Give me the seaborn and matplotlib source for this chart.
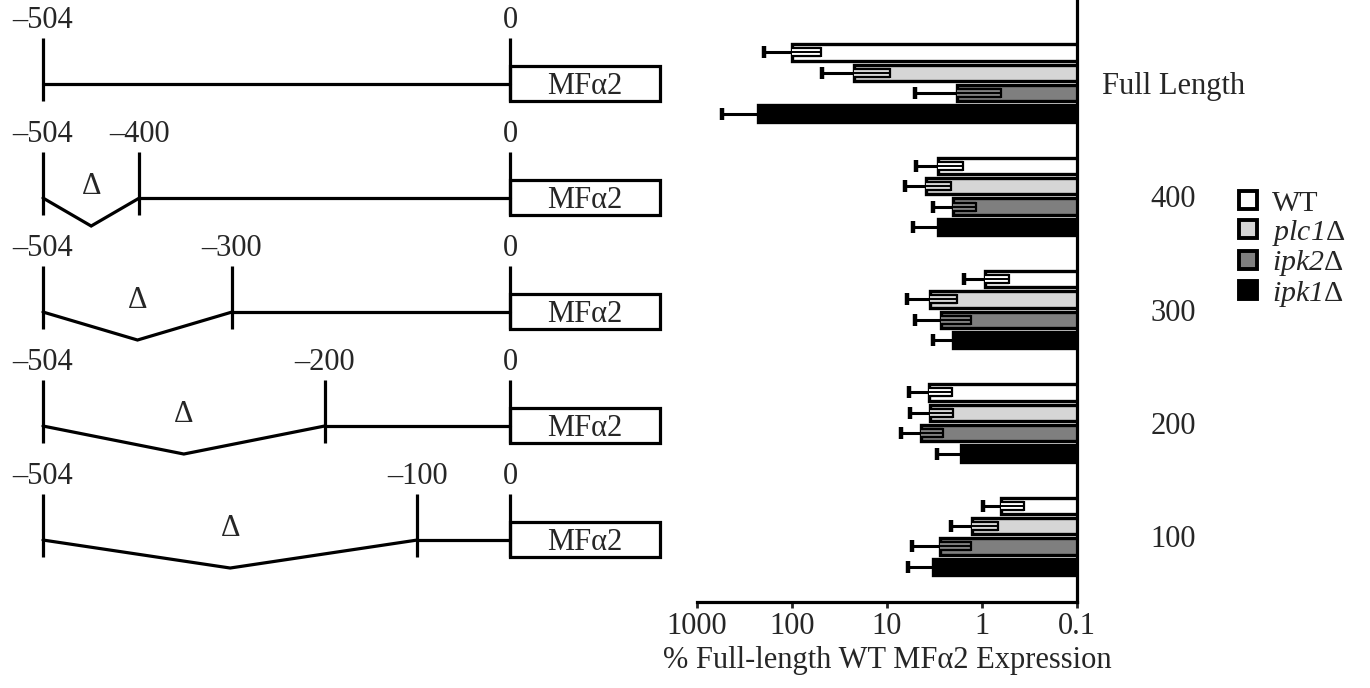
import numpy as np
import pandas as pd
import matplotlib.pyplot as plt
import seaborn as sns
from matplotlib.lines import Line2D
from matplotlib.patches import Rectangle
from matplotlib.ticker import NullLocator

# groups (promoter constructs) and strains
groups = ['Full Length', '400', '300', '200', '100']
strains = ['WT', 'plc1Δ', 'ipk2Δ', 'ipk1Δ']
legend_labels = ['WT', r'$\mathcal{plc1}$Δ', r'$\mathcal{ipk2}$Δ', r'$\mathcal{ipk1}$Δ']
colors = ['#ffffff', '#d6d6d6', '#7f7f7f', '#000000']

# % of full-length WT MFa2 expression (one list per strain, in group order)
wt = [100, 2.9, 0.94, 3.6, 0.63]
plc1 = [22, 3.9, 3.5, 3.55, 1.26]
ipk2 = [1.83, 2.0, 2.7, 4.35, 2.8]
ipk1 = [228, 2.9, 2.0, 1.68, 3.3]

# upper / lower ends of the error bars
wt_hi = [199, 5.0, 1.56, 5.9, 0.98]
wt_lo = [49, 1.6, 0.52, 2.07, 0.36]
plc1_hi = [48, 6.5, 6.2, 5.7, 2.1]
plc1_lo = [9.4, 2.1, 1.83, 2.0, 0.68]
ipk2_hi = [5.1, 3.3, 5.1, 7.05, 5.5]
ipk2_lo = [0.63, 1.15, 1.32, 2.57, 1.29]
ipk1_hi = [550, 5.3, 3.3, 3.0, 6.0]
ipk1_lo = [95, 1.6, 1.25, 0.95, 1.8]

# promoter constructs: 5' end of each construct (full promoter starts at -504)
full_start = -504
starts = [-504, -400, -300, -200, -100]

sns.set_style('white')
plt.rcParams['font.family'] = ['Liberation Serif', 'DejaVu Serif']
plt.rcParams['mathtext.fontset'] = 'custom'
plt.rcParams['mathtext.rm'] = 'Liberation Serif'
plt.rcParams['mathtext.it'] = 'Liberation Serif:italic'
plt.rcParams['mathtext.cal'] = 'Liberation Serif:italic'
FS = 22

fig = plt.figure(figsize=(13.7, 6.88), dpi=100)

# ---- left: promoter deletion diagram ----
dax = fig.add_axes([0, 0, 690 / 1370, 1])
dax.set_xlim(-550.4, 194.3)
dax.set_ylim(5.298, -0.737)
dax.axis('off')
u = 1 / 114  # one pixel in row units
gene_len = 162
lw = 2.3
for i, s in enumerate(starts):
    y = i
    marks = sorted({full_start, s, 0})
    for xt in marks:
        dax.plot([xt, xt], [y - 46 * u, y + 17 * u], color='k', lw=lw,
                 solid_capstyle='butt')
        lab = '0' if xt == 0 else '–%d' % abs(xt)
        dax.text(xt, y - 64 * u, lab, ha='center', va='center', fontsize=FS)
    if s == full_start:
        dax.plot([full_start, 0], [y, y], color='k', lw=lw)
    else:
        mid = (full_start + s) / 2
        dax.plot([full_start, mid, s], [y, y + 28 * u, y], color='k', lw=lw,
                 solid_joinstyle='miter')
        dax.plot([s, 0], [y, y], color='k', lw=lw)
        dax.text(mid, y - 12 * u, 'Δ', ha='center', va='center', fontsize=FS)
    dax.add_patch(Rectangle((0, y - 18 * u), gene_len, 35 * u, fill=False,
                            lw=lw, ec='k'))
    dax.text(gene_len / 2, y + 2 * u, 'MFα2', ha='center', va='center', fontsize=FS)

# ---- right: expression bars ----
ax = fig.add_axes([697 / 1370, 1 - 602 / 688, 380 / 1370, 602 / 688])
df = pd.DataFrame({
    'group': np.tile(groups, len(strains)),
    'strain': np.repeat(strains, len(groups)),
    'value': wt + plc1 + ipk2 + ipk1,
})
sns.barplot(data=df, x='value', y='group', hue='strain', orient='h',
            palette=dict(zip(strains, colors)), edgecolor='black', linewidth=2.4,
            width=0.72, gap=0.2, errorbar=None, legend=False, log_scale=True,
            ax=ax)

his = wt_hi + plc1_hi + ipk2_hi + ipk1_hi
los = wt_lo + plc1_lo + ipk2_lo + ipk1_lo
base = 0.08  # bars start just past the 0.1 axis line (clipped there)
for p, lo, hi in zip(ax.patches, los, his):
    y = p.get_y() + p.get_height() / 2
    v = p.get_x() + p.get_width()
    p.set_x(base)
    p.set_width(v - base)
    fc = p.get_facecolor()
    ax.plot([hi, v], [y, y], color='k', lw=2.2, solid_capstyle='butt', zorder=3)
    ax.plot([hi], [y], marker='|', ms=8, mew=3.2, color='k', zorder=3)
    ax.plot([v, lo], [y, y], color='k', lw=7.4, solid_capstyle='butt', zorder=3)
    ax.plot([v, lo], [y, y], color=fc, lw=4.2, solid_capstyle='butt', zorder=3)
    ax.plot([v, lo], [y, y], color='k', lw=1.4, solid_capstyle='butt', zorder=3)
    ax.plot([lo], [y], marker='|', ms=7.4, mew=1.6, color='k', zorder=3)

ax.set_xlim(1000, 0.1)
ax.set_ylim(4.58, -0.733)
ax.set_xticks([1000, 100, 10, 1, 0.1])
ax.set_xticklabels(['1000', '100', '10', '1', '0.1'])
ax.xaxis.set_minor_locator(NullLocator())
ax.tick_params(axis='x', bottom=True, direction='out', length=4, width=2,
               labelsize=FS, pad=3)
ax.tick_params(axis='y', left=False, labelleft=False, right=False,
               labelright=True, labelsize=FS, pad=66)
plt.setp(ax.get_yticklabels(), ha='center')
ax.set_ylabel('')
ax.set_xlabel('% Full-length WT MFα2 Expression', fontsize=FS, labelpad=4)
for side in ['top', 'left']:
    ax.spines[side].set_visible(False)
for side in ['right', 'bottom']:
    ax.spines[side].set_linewidth(2.3)
    ax.spines[side].set_color('k')
    ax.spines[side].set_zorder(5)

handles = [Line2D([], [], marker='s', ls='none', ms=13, mfc=c, mec='k', mew=2.8)
           for c in colors]
fig.legend(handles, legend_labels, loc='upper left',
           bbox_to_anchor=(1236 / 1370, 1 - 190 / 688), frameon=False,
           fontsize=21.5, labelspacing=0.02, handletextpad=0.4, handlelength=0.8,
           borderpad=0, borderaxespad=0)

fig.savefig('out.png', dpi=100)
